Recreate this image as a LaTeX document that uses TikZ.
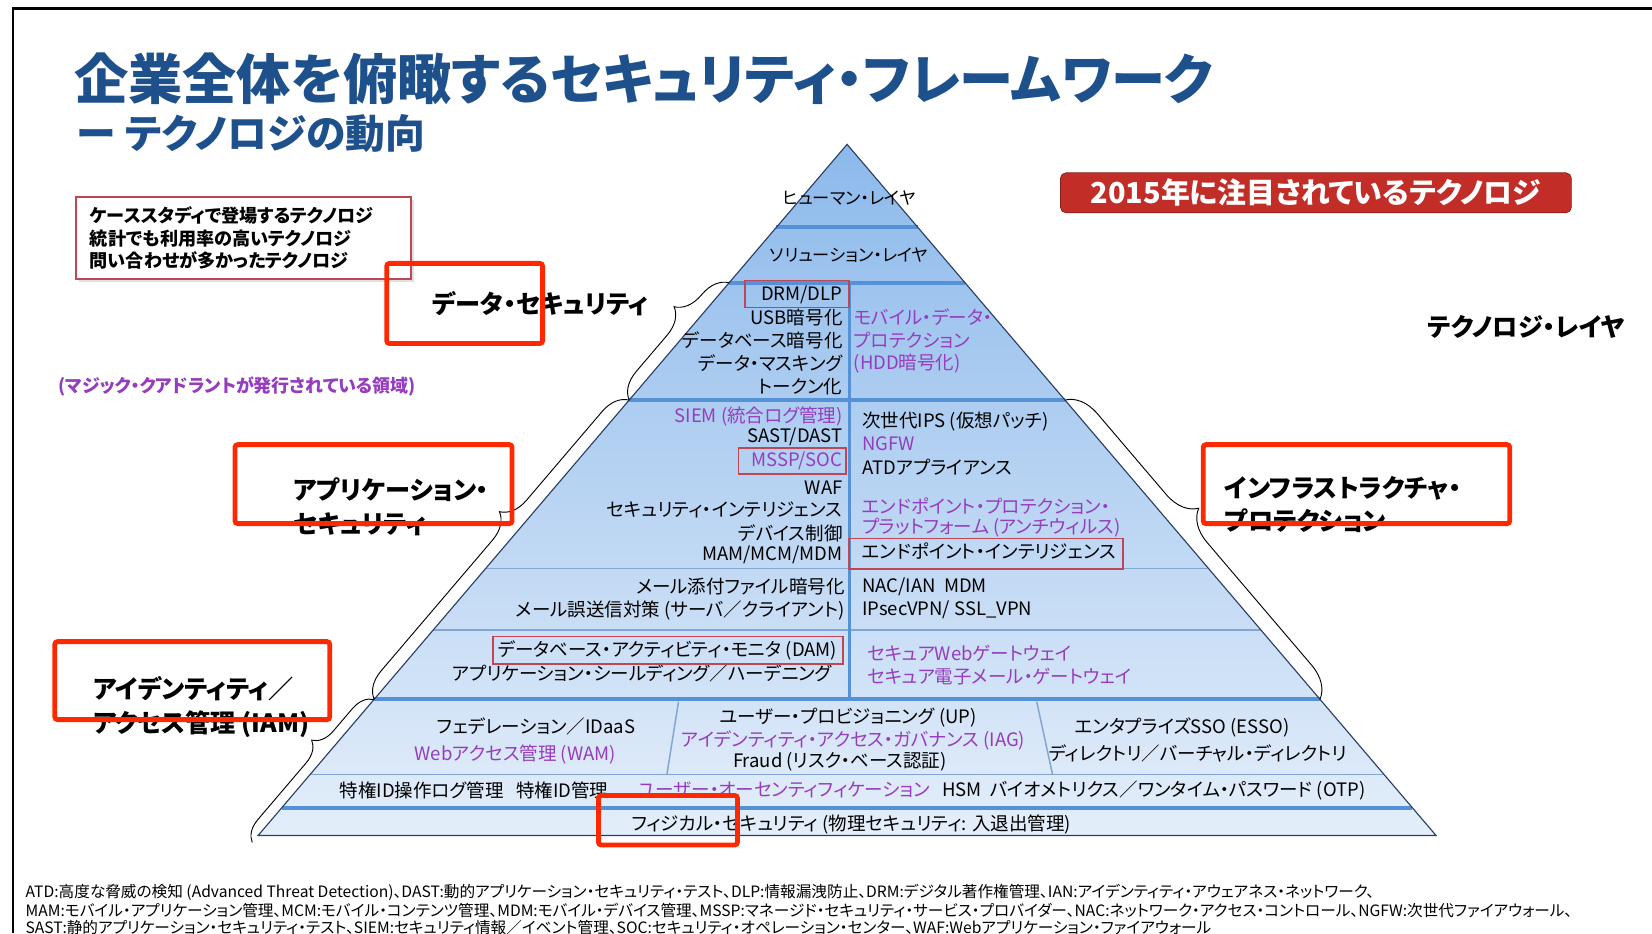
\documentclass[tikz,border=0pt]{standalone}
\usepackage{fontspec}
\setmainfont{Noto Sans CJK JP}[RawFeature=+palt]
\usetikzlibrary{calc,decorations.pathreplacing}
\definecolor{titleblue}{RGB}{30,80,140}
\definecolor{mqpurple}{RGB}{150,60,190}
\definecolor{boxred}{RGB}{190,70,85}
\definecolor{hired}{RGB}{255,40,0}
\definecolor{pyrtop}{RGB}{140,185,235}
\definecolor{pyrbot}{RGB}{228,238,250}
\definecolor{sepblue}{RGB}{85,145,215}
\definecolor{thinblue}{RGB}{130,165,210}
\definecolor{edgenavy}{RGB}{40,60,100}
\definecolor{badgered}{RGB}{195,45,40}

\begin{document}
\begin{tikzpicture}[x=0.02cm, y=-0.02cm,
  item/.style={font=\fontsize{10}{12}\selectfont, inner sep=0pt},
  mq/.style={item, text=mqpurple},
  layer/.style={font=\fontsize{9.3}{11}\selectfont, inner sep=0pt},
  cat/.style={font=\bfseries\fontsize{13.6}{18}\selectfont, inner sep=0pt, align=left},
  note/.style={font=\fontsize{8.45}{9.4}\selectfont, inner sep=0pt},
  legend/.style={font=\bfseries\fontsize{9.8}{12.2}\selectfont, inner sep=0pt, align=left},
  thicksep/.style={sepblue, line width=2.2pt},
  thinsep/.style={thinblue, line width=0.8pt},
  hibox/.style={hired, line width=2.6pt, rounded corners=1.5pt},
  itembox/.style={boxred, line width=0.8pt},
  brc/.style={decorate, black, line width=0.5pt},
]
\useasboundingbox (0,0) rectangle (1568,886);

% frame
\draw[line width=1.2pt] (12,886) -- (12,8) -- (1568,8);

% title
\node[anchor=west, inner sep=0pt, font=\bfseries\fontsize{29.3}{32}\selectfont, text=titleblue] (title) at (70,75) {企業全体を俯瞰するセキュリティ・フレームワーク};
\node[anchor=west, inner sep=0pt, font=\bfseries\fontsize{21.5}{24}\selectfont, text=titleblue] (subtitle) at (73,127) {ー テクノロジの動向};

% legend
\fill[black!12] (75,190) rectangle (393,268);
\draw[itembox, fill=white] (72,187) rectangle (390,265);
\node[legend, anchor=west] (leg) at (85,226) {ケーススタディで登場するテクノロジ\\統計でも利用率の高いテクノロジ\\問い合わせが多かったテクノロジ};

\node[fill=badgered, draw=badgered!70!black, rounded corners=3pt, minimum width=9.7cm, minimum height=0.76cm, text=white, font=\bfseries\fontsize{15.6}{17}\selectfont] (year) at (1249,183) {2015年に注目されているテクノロジ};

\node[cat, anchor=west] (techlayer) at (1355,310) {テクノロジ・レイヤ};
\node[anchor=west, inner sep=0pt, font=\bfseries\fontsize{9.7}{10}\selectfont, text=mqpurple] (mqnote) at (55,367) {(マジック・クアドラントが発行されている領域)};

% pyramid
\coordinate (top) at (804,137);
\coordinate (bl) at (245,793);
\coordinate (br) at (1363,793);
\shade[top color=pyrtop, bottom color=pyrbot] (top) -- (bl) -- (br) -- cycle;

\foreach \t in {0.120,0.200,0.370,0.803,0.960}
  \draw[thicksep] ($(top)!\t!(bl)$) -- ($(top)!\t!(br)$);
\foreach \t in {0.614,0.703,0.912}
  \draw[thinsep] ($(top)!\t!(bl)$) -- ($(top)!\t!(br)$);

\draw[sepblue, line width=1.6pt] (806,268) -- (806,664);
\draw[thinsep] (644,666) -- (633,735);
\draw[thinsep] (984,666) -- (999,735);

\draw[edgenavy, line width=0.6pt] (top) -- (bl) -- (br) -- cycle;

% layers
\node[layer] (human) at (806,188) {ヒューマン・レイヤ};
\node[layer] (solution) at (806,242) {ソリューション・レイヤ};

% data security
\node[item, anchor=east] (drm) at (800,280) {DRM/DLP};
\node[item, anchor=east] (usb) at (800,301) {USB暗号化};
\node[item, anchor=east] (dbenc) at (800,323) {データベース暗号化};
\node[item, anchor=east] (mask) at (800,345) {データ・マスキング};
\node[item, anchor=east] (token) at (800,367) {トークン化};
\node[mq, anchor=west] (mdp1) at (810,301) {モバイル・データ・};
\node[mq, anchor=west] (mdp2) at (810,323) {プロテクション};
\node[mq, anchor=west] (hdd) at (810,345) {(HDD暗号化)};
\draw[itembox] (707,266) rectangle (806,292);

% application / infrastructure
\node[mq, anchor=east] (siem) at (800,395) {SIEM (統合ログ管理)};
\node[item, anchor=east] (sast) at (800,415) {SAST/DAST};
\node[mq, anchor=east] (mssp) at (800,437) {MSSP/SOC};
\node[item, anchor=east] (waf) at (800,463) {WAF};
\node[item, anchor=east] (secint) at (800,484) {セキュリティ・インテリジェンス};
\node[item, anchor=east] (devctl) at (800,506) {デバイス制御};
\node[item, anchor=east] (mam) at (800,527) {MAM/MCM/MDM};
\draw[itembox] (701,425) rectangle (803,450);

\node[item, anchor=west] (ips) at (818,400) {次世代IPS (仮想パッチ)};
\node[mq, anchor=west] (ngfw) at (818,421) {NGFW};
\node[item, anchor=west] (atd) at (818,443) {ATDアプライアンス};
\node[mq, anchor=west] (epp1) at (818,480) {エンドポイント・プロテクション・};
\node[mq, anchor=west] (epp2) at (818,501) {プラットフォーム (アンチウィルス)};
\node[item, anchor=west] (epi) at (818,523) {エンドポイント・インテリジェンス};
\draw[itembox] (806,511) rectangle (1066,540);

\node[item, anchor=east] (mailenc) at (802,557) {メール添付ファイル暗号化};
\node[item, anchor=east] (mailmis) at (802,579) {メール誤送信対策 (サーバ／クライアント)};
\node[item, anchor=west] (nac) at (818,557) {NAC/IAN\ \ MDM};
\node[item, anchor=west] (vpn) at (818,579) {IPsecVPN/ SSL\_VPN};

\node[item, anchor=east] (dam) at (795,617) {データベース・アクティビティ・モニタ (DAM)};
\node[item, anchor=east] (shield) at (790,639) {アプリケーション・シールディング／ハーデニング};
\draw[itembox] (468,604) rectangle (800,630);
\node[mq, anchor=west] (swg) at (823,620) {セキュアWebゲートウェイ};
\node[mq, anchor=west] (seg) at (823,642) {セキュア電子メール・ゲートウェイ};

% identity
\node[item] (fed) at (509,689) {フェデレーション／IDaaS};
\node[mq] (wam) at (489,716) {Webアクセス管理 (WAM)};
\node[item] (up) at (805,681) {ユーザー・プロビジョニング (UP)};
\node[mq] (iag) at (810,703) {アイデンティティ・アクセス・ガバナンス (IAG)};
\node[item] (fraud) at (797,723) {Fraud (リスク・ベース認証)};
\node[item] (esso) at (1122,690) {エンタプライズSSO (ESSO)};
\node[item] (dir) at (1137,715) {ディレクトリ／バーチャル・ディレクトリ};

\node[item, anchor=west] (priv) at (322,750) {特権ID操作ログ管理\ \ \ 特権ID管理};
\node[mq, anchor=west] (uauth) at (605,750) {ユーザー・オーセンティフィケーション};
\node[item, anchor=west] (otp) at (894,750) {HSM\ \ バイオメトリクス／ワンタイム・パスワード (OTP)};

\node[item] (phys) at (808,783) {フィジカル・セキュリティ (物理セキュリティ: 入退出管理)};

% categories
\node[cat, anchor=west] (datasec) at (410,288) {データ・セキュリティ};
\node[cat, anchor=west] (appsec) at (278,481) {アプリケーション・\\セキュリティ};
\node[cat, anchor=west] (infra) at (1162,479) {インフラストラクチャ・\\プロテクション};
\node[cat, anchor=west] (iam) at (88,671) {アイデンティティ／\\アクセス管理 (IAM)};

% braces
\coordinate (ds a) at ($(top)!0.370!(bl)$);
\coordinate (ds b) at ($(top)!0.200!(bl)$);
\coordinate (as a) at ($(top)!0.803!(bl)$);
\coordinate (id a) at ($(top)!1.010!(bl)$);
\coordinate (in a) at ($(top)!0.370!(br)$);
\coordinate (in b) at ($(top)!0.803!(br)$);
\draw[brc, decoration={brace, amplitude=0.5cm, aspect=0.65}] (ds a) -- (ds b);
\draw[brc, decoration={brace, amplitude=0.5cm, aspect=0.57}] (as a) -- (ds a);
\draw[brc, decoration={brace, amplitude=0.4cm, aspect=0.62}] (id a) -- (as a);
\draw[brc, decoration={brace, amplitude=0.6cm, aspect=0.43}] (in a) -- (in b);

% highlights
\draw[hibox] (367,250) rectangle (515,326);
\draw[hibox] (223,422) rectangle (486,497);
\draw[hibox] (52,609) rectangle (313,683);
\draw[hibox] (1142,422) rectangle (1433,497);
\draw[hibox] (568,755) rectangle (700,802);

% footnotes
\node[note, anchor=west] (fn1) at (24,847) {ATD:高度な脅威の検知 (Advanced Threat Detection)、DAST:動的アプリケーション・セキュリティ・テスト、DLP:情報漏洩防止、DRM:デジタル著作権管理、IAN:アイデンティティ・アウェアネス・ネットワーク、};
\node[note, anchor=west] (fn2) at (24,864) {MAM:モバイル・アプリケーション管理、MCM:モバイル・コンテンツ管理、MDM:モバイル・デバイス管理、MSSP:マネージド・セキュリティ・サービス・プロバイダー、NAC:ネットワーク・アクセス・コントロール、NGFW:次世代ファイアウォール、};
\node[note, anchor=west] (fn3) at (24,880) {SAST:静的アプリケーション・セキュリティ・テスト、SIEM:セキュリティ情報／イベント管理、SOC:セキュリティ・オペレーション・センター、WAF:Webアプリケーション・ファイアウォール};
\end{tikzpicture}
\end{document}
